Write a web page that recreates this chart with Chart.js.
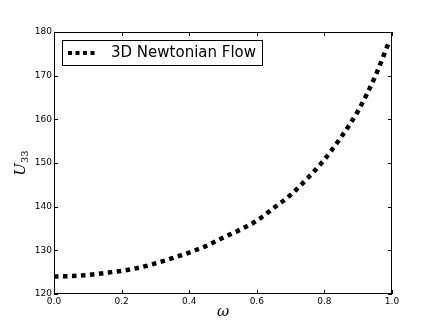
<!DOCTYPE html>
<html>
<head>
<meta charset="utf-8">
<script src="https://cdn.jsdelivr.net/npm/chart.js@4.4.1/dist/chart.umd.min.js"></script>
<style>
html,body{margin:0;padding:0;background:#fff;}
#wrap{width:436px;height:327px;position:relative;}
</style>
</head>
<body>
<div id="wrap"><canvas id="c" width="436" height="327"></canvas></div>
<script>
const omega = [0, 0.05, 0.1, 0.15, 0.2, 0.25, 0.3, 0.35, 0.4, 0.45, 0.5, 0.55, 0.6, 0.65, 0.7, 0.75, 0.8, 0.85, 0.9, 0.95, 0.99];
const u33 = [124.0, 124.1, 124.35, 124.8, 125.3, 126.0, 127.0, 128.2, 129.5, 131.0, 132.9, 134.7, 136.8, 139.7, 142.7, 146.5, 150.8, 156.0, 162.0, 169.8, 177.5];
const seriesLabel = "3D Newtonian Flow";
const xTicks = [0, 0.2, 0.4, 0.6, 0.8, 1.0];
const yTicks = [120, 130, 140, 150, 160, 170, 180];

const TICK_FONT = '9px "DejaVu Sans"';

const framePlugin = {
  id: 'frame',
  afterDraw(chart) {
    const ctx = chart.ctx;
    const a = chart.chartArea;
    const xs = chart.scales.x, ys = chart.scales.y;
    ctx.save();
    // frame
    ctx.strokeStyle = '#000';
    ctx.lineWidth = 1;
    ctx.strokeRect(Math.round(a.left) + 0.5, Math.round(a.top) + 0.5, Math.round(a.right - a.left) - 1, Math.round(a.bottom - a.top) - 1);
    // inward ticks
    ctx.beginPath();
    const L = 4;
    xTicks.forEach(v => {
      const px = Math.round(xs.getPixelForValue(v)) + 0.5;
      ctx.moveTo(px, a.bottom); ctx.lineTo(px, a.bottom - L);
      ctx.moveTo(px, a.top); ctx.lineTo(px, a.top + L);
    });
    yTicks.forEach(v => {
      const py = Math.round(ys.getPixelForValue(v)) + 0.5;
      ctx.moveTo(a.left, py); ctx.lineTo(a.left + L, py);
      ctx.moveTo(a.right, py); ctx.lineTo(a.right - L, py);
    });
    ctx.stroke();
    // tick labels
    ctx.fillStyle = '#000';
    ctx.font = TICK_FONT;
    ctx.textAlign = 'center'; ctx.textBaseline = 'top';
    xTicks.forEach(v => {
      ctx.fillText(v.toFixed(1), xs.getPixelForValue(v), a.bottom + 3);
    });
    ctx.textAlign = 'right'; ctx.textBaseline = 'middle';
    yTicks.forEach(v => {
      ctx.fillText(String(v), a.left - 2, ys.getPixelForValue(v));
    });
    // axis titles
    ctx.textAlign = 'center'; ctx.textBaseline = 'middle';
    ctx.font = 'italic 15px "DejaVu Serif"';
    ctx.fillText('\u03C9', (a.left + a.right) / 2, a.bottom + 18);
    // y title U_33 rotated
    ctx.save();
    ctx.translate(20, (a.top + a.bottom) / 2);
    ctx.rotate(-Math.PI / 2);
    ctx.textAlign = 'left'; ctx.textBaseline = 'alphabetic';
    ctx.font = 'italic 15px "DejaVu Serif"';
    const wU = ctx.measureText('U').width;
    ctx.font = '10px "DejaVu Serif"';
    const w33 = ctx.measureText('33').width;
    const total = wU + w33;
    ctx.font = 'italic 15px "DejaVu Serif"';
    ctx.fillText('U', -total / 2, 5);
    ctx.font = '10px "DejaVu Serif"';
    ctx.fillText('33', -total / 2 + wU, 8);
    ctx.restore();
    // legend
    const lx = 62, ly = 40, lw = 200, lh = 25;
    ctx.fillStyle = '#fff';
    ctx.fillRect(lx, ly, lw, lh);
    ctx.strokeStyle = '#000'; ctx.lineWidth = 1;
    ctx.strokeRect(lx + 0.5, ly + 0.5, lw, lh);
    ctx.beginPath();
    ctx.setLineDash([4, 3.5]);
    ctx.lineWidth = 4;
    ctx.moveTo(68, ly + 13); ctx.lineTo(98, ly + 13);
    ctx.stroke();
    ctx.setLineDash([]);
    ctx.fillStyle = '#000';
    ctx.font = '15px "DejaVu Sans"';
    ctx.textAlign = 'left'; ctx.textBaseline = 'middle';
    ctx.fillText(chart.data.datasets[0].label, 111, ly + 13);
    ctx.restore();
  }
};

new Chart(document.getElementById('c'), {
  type: 'line',
  data: {
    datasets: [{
      label: seriesLabel,
      data: omega.map((x, i) => ({ x: x, y: u33[i] })),
      borderColor: '#000',
      borderWidth: 4.5,
      borderDash: [4.5, 4.5],
      borderCapStyle: 'butt',
      pointRadius: 0,
      tension: 0.4,
      cubicInterpolationMode: 'monotone',
      fill: false
    }]
  },
  options: {
    responsive: false,
    animation: false,
    devicePixelRatio: 1,
    layout: { padding: { left: 0, right: 44, top: 32, bottom: 0 } },
    plugins: { legend: { display: false }, tooltip: { enabled: false } },
    scales: {
      x: {
        type: 'linear', min: 0, max: 1,
        grid: { display: false },
        border: { display: false },
        ticks: { display: false },
        afterFit: s => { s.height = 33; }
      },
      y: {
        type: 'linear', min: 120, max: 180,
        grid: { display: false },
        border: { display: false },
        ticks: { display: false },
        afterFit: s => { s.width = 54; }
      }
    }
  },
  plugins: [framePlugin]
});
</script>
</body>
</html>
